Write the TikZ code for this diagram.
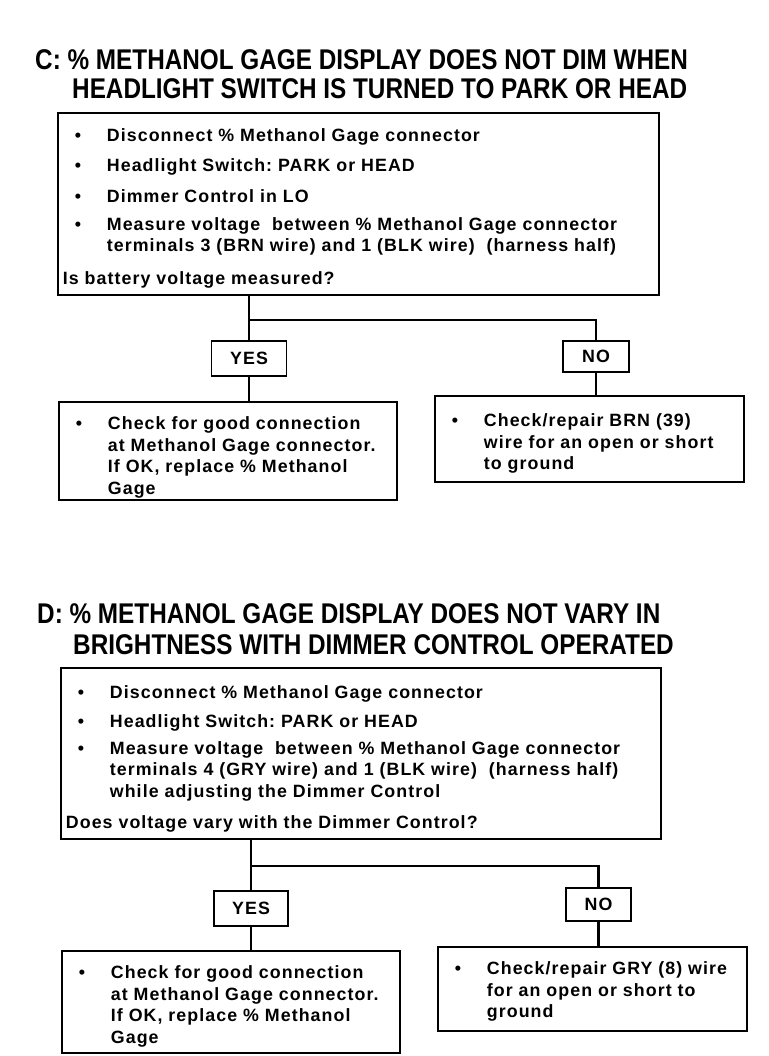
\documentclass[tikz,border=0pt]{standalone}
\usepackage{fontspec}
\newfontfamily\bodyfont[LetterSpace=6]{Liberation Sans}
\newfontfamily\headfont[FakeStretch=0.853]{Liberation Sans}
\usetikzlibrary{calc}
\frenchspacing

% bullet and continuation lines inside the panels
\newcommand{\bitem}{\makebox[44pt][l]{\hspace{12pt}\textbullet}}
\newcommand{\bcont}{\hspace*{44pt}}
\newcommand{\lift}[1]{\rule{0pt}{#1}}

\begin{document}
\begin{tikzpicture}[x=1pt, y=-1pt,
    every node/.style={font=\bodyfont\bfseries\fontsize{17.8}{21.5}\selectfont},
    title/.style={font=\headfont\bfseries\fontsize{28.5}{30}\selectfont, inner sep=0pt, anchor=base west},
    panel/.style={draw, line width=1.8pt, anchor=north west, align=left, inner xsep=5pt, inner ysep=0pt},
    answer/.style={draw, line width=1.8pt, inner sep=0pt},
    wire/.style={line width=2.4pt}]
    \useasboundingbox (0,0) rectangle (768,1056);

    % --- C ---
    \node [title] (ctitle1) at (35,70) {C: \% METHANOL GAGE DISPLAY DOES NOT DIM WHEN};
    \node [title] (ctitle2) at (72,99) {HEADLIGHT SWITCH IS TURNED TO PARK OR HEAD};

    \node [panel, text width=591pt, minimum width=601pt, minimum height=182pt] (cq) at (57,112)
        {\lift{22pt}\bitem Disconnect \% Methanol Gage connector\\[8pt]
         \bitem Headlight Switch: PARK or HEAD\\[10pt]
         \bitem Dimmer Control in LO\\[6pt]
         \bitem Measure voltage\ \ between \% Methanol Gage connector\\
         \bcont terminals 3 (BRN wire) and 1 (BLK wire)\ \ (harness half)\\[11pt]
         Is battery voltage measured?};

    \node [answer, minimum width=75pt, minimum height=35pt] (cyes) at (249,358.5) {YES};
    \node [answer, minimum width=66pt, minimum height=31pt] (cno) at (596,356.5) {NO};

    \node [panel, text width=328pt, minimum width=338pt, minimum height=98pt] (cyesfix) at (58,401)
        {\lift{26pt}\bitem Check for good connection\\
         \bcont at Methanol Gage connector.\\
         \bcont If OK, replace \% Methanol\\
         \bcont Gage};
    \node [panel, text width=299pt, minimum width=309pt, minimum height=86pt] (cnofix) at (434,395)
        {\lift{22pt}\bitem Check/repair BRN (39)\\
         \bcont wire for an open or short\\
         \bcont to ground};

    \coordinate (cjoin) at (249,320);
    \draw [wire] (cq.south -| cjoin) -- (cyes.north);
    \draw [wire] (cjoin) -| (cno.north);
    \draw [wire] (cyes.south) -- (cyes.south |- cyesfix.north);
    \draw [wire] (cno.south) -- (cno.south |- cnofix.north);

    % --- D ---
    \node [title] (dtitle1) at (37,623) {D: \% METHANOL GAGE DISPLAY DOES NOT VARY IN};
    \node [title] (dtitle2) at (73,654) {BRIGHTNESS WITH DIMMER CONTROL OPERATED};

    \node [panel, text width=590pt, minimum width=600pt, minimum height=171pt] (dq) at (60,667)
        {\lift{24pt}\bitem Disconnect \% Methanol Gage connector\\[8pt]
         \bitem Headlight Switch: PARK or HEAD\\[5pt]
         \bitem Measure voltage\ \ between \% Methanol Gage connector\\
         \bcont terminals 4 (GRY wire) and 1 (BLK wire)\ \ (harness half)\\
         \bcont while adjusting the Dimmer Control\\[10pt]
         Does voltage vary with the Dimmer Control?};

    \node [answer, minimum width=74pt, minimum height=35pt] (dyes) at (251,908.5) {YES};
    \node [answer, minimum width=65pt, minimum height=33pt] (dno) at (598.5,904.5) {NO};

    \node [panel, text width=328pt, minimum width=338pt, minimum height=102pt] (dyesfix) at (61,950)
        {\lift{22pt}\bitem Check for good connection\\
         \bcont at Methanol Gage connector.\\
         \bcont If OK, replace \% Methanol\\
         \bcont Gage};
    \node [panel, text width=299pt, minimum width=309pt, minimum height=84pt] (dnofix) at (437,946)
        {\lift{18pt}\bitem Check/repair GRY (8) wire\\
         \bcont for an open or short to\\
         \bcont ground};

    \coordinate (djoin) at (251,866);
    \draw [wire] (dq.south -| djoin) -- (dyes.north);
    \draw [wire] (djoin) -| (dno.north);
    \draw [wire] (dyes.south) -- (dyes.south |- dyesfix.north);
    \draw [wire] (dno.south) -- (dno.south |- dnofix.north);
\end{tikzpicture}
\end{document}
